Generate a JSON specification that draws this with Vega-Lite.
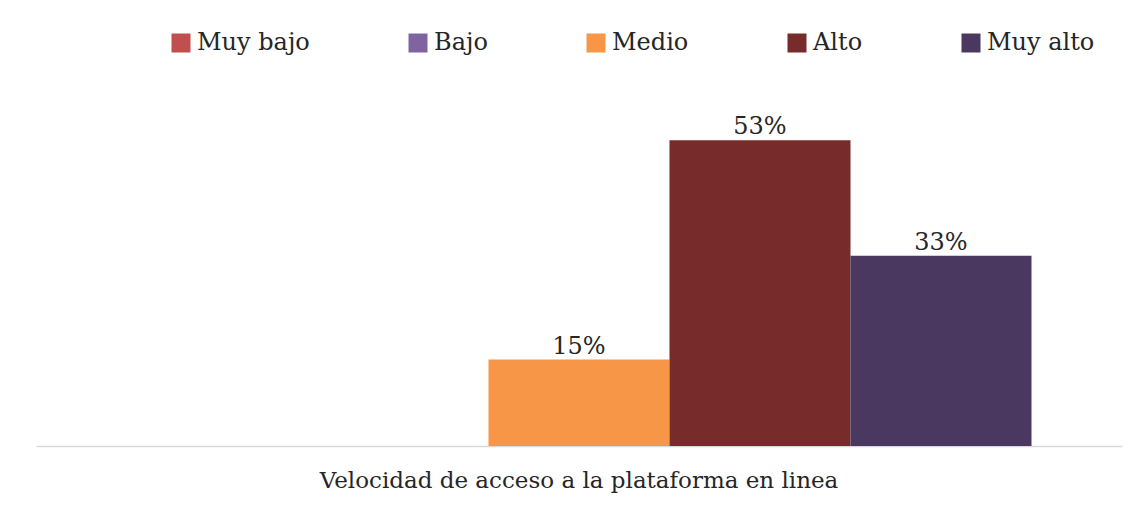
{
  "$schema": "https://vega.github.io/schema/vega-lite/v6.json",
  "width": 1086,
  "height": 346,
  "autosize": "none",
  "padding": {"left": 36, "top": 100, "right": 15, "bottom": 64},
  "background": "white",
  "config": {"view": {"stroke": null}, "font": "DejaVu Serif"},
  "data": {
    "values": [
      {"categoria": "Velocidad de acceso a la plataforma en linea", "nivel": "Muy bajo", "valor": 0},
      {"categoria": "Velocidad de acceso a la plataforma en linea", "nivel": "Bajo", "valor": 0},
      {"categoria": "Velocidad de acceso a la plataforma en linea", "nivel": "Medio", "valor": 0.15},
      {"categoria": "Velocidad de acceso a la plataforma en linea", "nivel": "Alto", "valor": 0.53},
      {"categoria": "Velocidad de acceso a la plataforma en linea", "nivel": "Muy alto", "valor": 0.33}
    ]
  },
  "encoding": {
    "x": {
      "field": "categoria",
      "type": "nominal",
      "scale": {"paddingInner": 0, "paddingOuter": 0.1},
      "axis": {
        "title": null,
        "labelAngle": 0,
        "domainColor": "#d9d9d9",
        "domainWidth": 1.5,
        "ticks": false,
        "tickSize": 0,
        "labelFont": "DejaVu Serif",
        "labelFontSize": 23,
        "labelColor": "#262626",
        "labelPadding": 41,
        "labelBaseline": "alphabetic",
        "labelLimit": 2000
      }
    },
    "xOffset": {
      "field": "nivel",
      "type": "nominal",
      "sort": ["Muy bajo", "Bajo", "Medio", "Alto", "Muy alto"],
      "scale": {"paddingInner": 0, "paddingOuter": 0}
    },
    "y": {
      "field": "valor",
      "type": "quantitative",
      "scale": {"domain": [0, 0.6]},
      "axis": null
    }
  },
  "layer": [
    {
      "mark": {"type": "bar"},
      "encoding": {
        "color": {
          "field": "nivel",
          "type": "nominal",
          "scale": {
            "domain": ["Muy bajo", "Bajo", "Medio", "Alto", "Muy alto"],
            "range": ["#C0504D", "#8064A2", "#F79646", "#772B2A", "#4B3860"]
          },
          "legend": {
            "title": null,
            "orient": "none",
            "direction": "horizontal",
            "legendX": 133,
            "legendY": -69,
            "padding": 0,
            "symbolType": "square",
            "symbolSize": 361,
            "symbolStrokeWidth": 0,
            "labelFont": "DejaVu Serif",
            "labelFontSize": 24,
            "labelColor": "#262626",
            "labelOffset": 4,
            "columnPadding": 96,
            "labelLimit": 500
          }
        }
      }
    },
    {
      "transform": [{"filter": "datum.valor > 0"}],
      "mark": {
        "type": "text",
        "baseline": "alphabetic",
        "dy": -6,
        "font": "DejaVu Serif",
        "fontSize": 24,
        "color": "#262626"
      },
      "encoding": {
        "text": {"field": "valor", "type": "quantitative", "format": ".0%"}
      }
    }
  ]
}
